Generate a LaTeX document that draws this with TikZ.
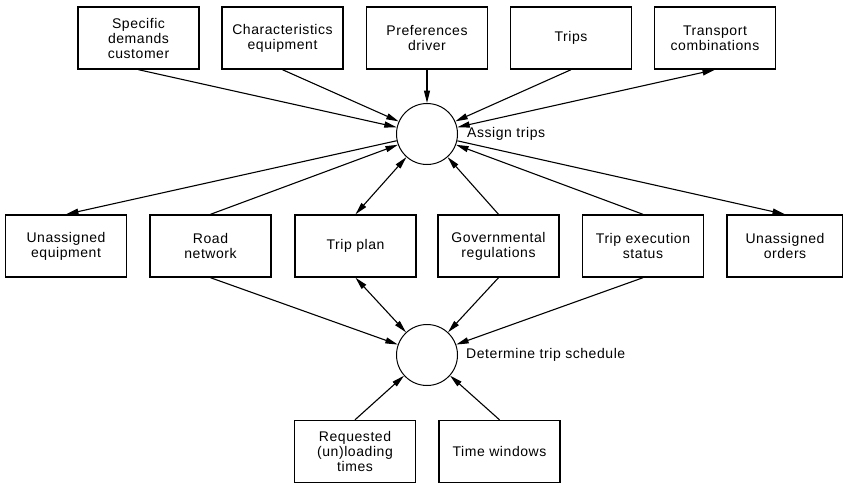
\documentclass[tikz,border=0pt]{standalone}
\usepackage{fontspec}
\setmainfont{Liberation Sans}[LetterSpace=4]
\usetikzlibrary{arrows.meta}

\begin{document}
\begin{tikzpicture}[x=1pt,y=-1pt,
  box/.style={draw, line width=1.4pt, minimum width=121pt, minimum height=62pt,
    align=center, inner sep=0pt, font=\fontsize{14}{15}\selectfont},
  proc/.style={draw, circle, line width=1pt, minimum size=61pt, inner sep=0pt},
  tip/.tip={Triangle[length=12.5pt,width=6pt]},
  flow/.style={line width=1.1pt, -tip},
  twoway/.style={line width=1.1pt, tip-tip},
  lbl/.style={anchor=west, inner sep=0pt, font=\fontsize{14}{15}\selectfont}]

\useasboundingbox (0,0) rectangle (843,483);

% processes
\node[proc] (assign) at (427,134) {};
\node[lbl] (assignlbl) at (467,134) {Assign trips};
\node[proc] (sched) at (427,355) {};
\node[lbl] (schedlbl) at (466,355) {Determine trip schedule};

% top row
\node[box] (sdc) at (138.5,38) {Specific\\demands\\customer};
\node[box] (che) at (282.5,38) {Characteristics\\equipment};
\node[box] (prd) at (427,38) {Preferences\\driver};
\node[box] (trp) at (571,38) {Trips};
\node[box] (tco) at (715,38) {Transport\\combinations};

% middle row
\node[box] (uae) at (66,246) {Unassigned\\equipment};
\node[box] (rdn) at (210.5,246) {Road\\network};
\node[box] (tpl) at (355.5,246) {Trip plan};
\node[box] (gov) at (498.5,246) {Governmental\\regulations};
\node[box] (tes) at (643,246) {Trip execution\\status};
\node[box, minimum width=116pt] (uao) at (785,246) {Unassigned\\orders};

% bottom row
\node[box] (rlt) at (355,451.5) {Requested\\(un)loading\\times};
\node[box] (tw) at (499.5,451.5) {Time windows};

% flows around "Assign trips"
\draw[flow] (sdc.south) -- (assign);
\draw[flow] (che.south) -- (assign);
\draw[flow] (prd.south) -- (assign);
\draw[flow] (trp.south) -- (assign);
\draw[twoway] (tco.south) -- (assign);
\draw[flow] (assign) -- (uae.north);
\draw[flow] (rdn.north) -- (assign);
\draw[twoway] (tpl.north) -- (assign);
\draw[flow] (gov.north) -- (assign);
\draw[flow] (tes.north) -- (assign);
\draw[flow] (assign) -- (uao.north);

% flows around "Determine trip schedule"
\draw[flow] (rdn.south) -- (sched);
\draw[twoway] (tpl.south) -- (sched);
\draw[flow] (gov.south) -- (sched);
\draw[flow] (tes.south) -- (sched);
\draw[flow] (rlt.north) -- (sched);
\draw[flow] (tw.north) -- (sched);
\end{tikzpicture}
\end{document}
